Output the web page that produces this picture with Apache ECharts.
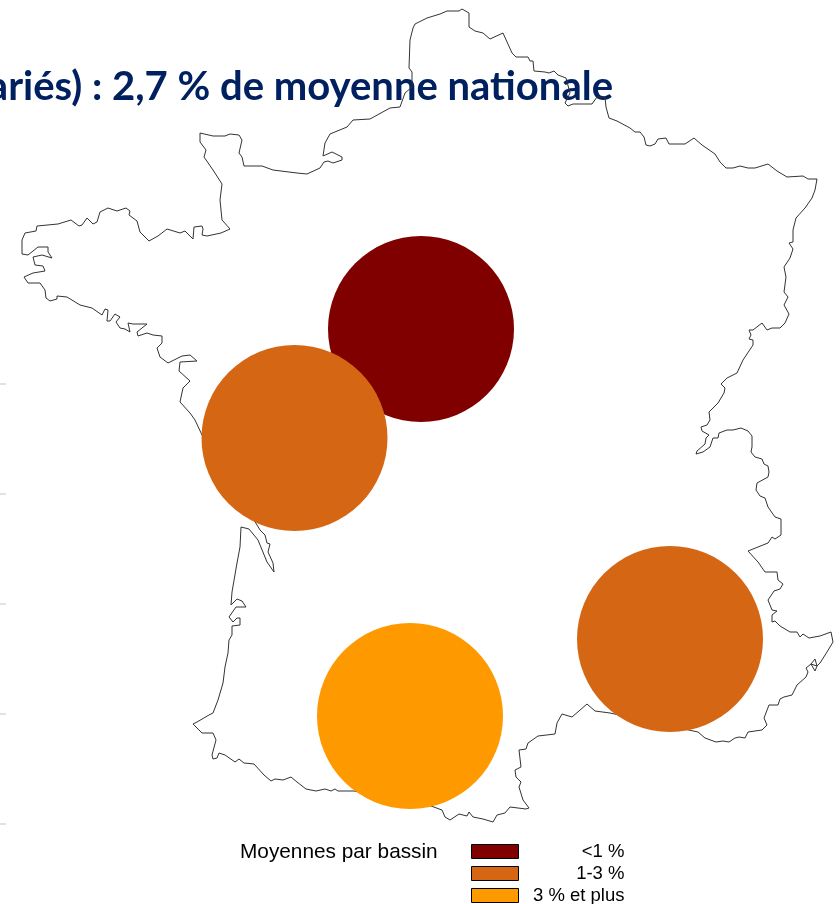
<!DOCTYPE html>
<html>
<head>
<meta charset="utf-8">
<title>Moyennes par bassin</title>
<style>
html,body{margin:0;padding:0;background:#fff;overflow:hidden;}
#main{width:840px;height:904px;}
</style>
<script src="https://cdn.jsdelivr.net/npm/echarts@6/dist/echarts.min.js"></script>
</head>
<body>
<div id="main"></div>
<script>
var titleText = 'ariés) : 2,7 % de moyenne nationale';
var legendTitle = 'Moyennes par bassin';
var classNames = ['<1 %', '1-3 %', '3 % et plus'];
var classColors = ['#800000', '#d56714', '#ff9900'];

// centres des bassins, par classe
var basinsLow = [[421, 329]];
var basinsMid = [[294.5, 438], [670, 639]];
var basinsHigh = [[410, 716]];

// restes de graduations a gauche
var leftTicks = [384, 494, 604, 714, 824];

// contour
var northEast = [[462,9],[469,13],[469,27],[475,31],[483,33],[490,39],[503,33],[512,53],[516,57],[528,57],[530,61],[533,61],[534,71],[545,72],[549,73],[554,71],[558,75],[566,78],[570,93],[565,103],[568,106],[573,104],[592,104],[597,97],[605,97],[606,107],[608,108],[609,118],[617,121],[630,128],[635,132],[640,132],[644,137],[646,145],[650,146],[655,144],[658,139],[666,138],[669,144],[685,144],[694,138],[702,145],[715,154],[720,162],[726,168],[733,168],[740,166],[748,168],[755,168],[768,164],[777,171],[787,177],[803,176],[808,179],[817,179],[815,190],[812,198],[805,208],[796,218],[793,230],[793,242],[789,243],[793,249],[790,258],[784,267],[786,277],[784,292],[788,297],[784,305],[789,314],[785,323],[780,328],[772,328],[767,330],[762,323],[753,330],[749,330],[751,335],[749,339],[753,340],[753,345],[743,360],[737,373],[727,378],[721,384],[725,388],[724,393],[718,403],[709,412],[710,420],[707,425],[701,427],[702,431],[709,435],[706,438],[705,444],[697,451],[696,454],[698,452],[703,452],[710,447],[713,438],[718,438],[719,433],[727,430],[733,430],[741,428],[748,431],[752,436],[752,447],[751,452],[755,457],[762,459],[764,464],[768,466],[769,472],[768,477]];
var alps = [[757,483],[756,490],[760,496],[765,498],[768,507],[775,517],[781,519],[781,535],[775,539],[772,537],[768,543],[758,547],[748,551],[758,562],[765,572],[777,572],[778,580],[783,584],[780,589],[774,591],[768,600],[772,610],[777,611],[772,615],[772,622],[775,621],[780,626],[790,632],[797,632],[800,637],[803,634],[809,638],[820,636],[831,632],[833,642],[827,652],[820,663],[817,666],[815,659],[811,664],[815,671],[817,666],[811,664],[806,668],[808,672],[806,677],[797,685],[792,695],[784,697],[780,699],[778,705],[769,705],[764,718],[767,725],[762,730],[748,732],[745,738],[739,737],[735,738],[729,742],[723,741],[716,742],[705,738],[698,732]];
var southCoast = [[610,713],[595,711],[587,704],[572,717],[562,714],[557,723],[555,734],[538,736],[528,743],[526,749],[519,750],[521,767],[515,770],[516,777],[521,782],[519,787],[523,800],[529,808],[526,809],[510,807],[505,813],[497,815],[493,822],[483,819],[473,817],[469,812],[467,816],[459,814],[450,820],[445,817],[442,810],[431,806]];
var pyrenees = [[354,791],[338,791],[335,789],[331,791],[325,789],[316,791],[306,789],[297,782],[291,777],[283,780],[275,779],[271,781],[264,775],[254,764],[244,763],[239,759],[235,762],[225,755],[219,753],[217,758],[213,759],[212,755],[216,740],[213,733],[202,733],[199,730],[193,724],[197,722],[209,715],[213,713]];
var atlantic = [[218,700],[223,683],[225,667],[228,653],[229,640],[232,635],[232,626],[240,625],[240,618],[237,618],[233,622],[229,617],[236,607],[246,607],[242,601],[237,599],[231,605],[232,592],[237,563],[240,547],[241,527],[249,529],[258,540],[267,562],[274,572],[273,563],[268,552],[270,544],[267,543],[265,535],[260,530],[257,525],[202,435],[195,420],[190,413],[180,402],[183,388],[190,381],[179,371],[180,362],[197,361],[190,355],[182,356],[168,363],[160,357],[157,348],[162,343],[162,336],[153,335],[147,333],[138,336],[137,332],[147,324],[133,324],[128,323],[130,332],[125,329],[120,328],[116,322],[120,317],[115,314],[110,321],[107,321],[108,310],[105,309],[102,315],[92,308],[80,305],[67,297],[57,296],[57,299],[50,301],[46,298]];
var channel = [[45,290],[40,283],[28,283],[24,277],[33,273],[45,271],[43,266],[35,265],[33,257],[42,255],[52,258],[48,252],[48,247],[38,247],[28,255],[22,254],[22,240],[25,233],[36,231],[37,226],[58,224],[71,220],[79,226],[82,225],[87,218],[93,224],[97,222],[100,212],[108,208],[117,211],[126,208],[130,211],[129,215],[137,221],[140,232],[149,241],[158,236],[167,229],[180,233],[185,231],[193,239],[194,227],[202,226],[203,229],[202,230],[202,235],[207,236],[221,233],[222,231],[230,229],[222,220],[220,200],[222,184],[213,170],[204,157],[206,150],[200,142],[200,133],[213,136],[225,136],[230,134],[239,135],[242,140],[239,153],[242,157],[244,166],[262,166],[273,170],[297,173],[307,174],[320,168],[324,162],[328,161],[333,163],[342,160],[342,157],[332,152],[323,156],[325,143],[330,134],[347,127],[353,120],[370,119],[390,108],[400,107],[405,93],[412,87],[412,72],[409,68],[410,40],[413,28],[415,24],[427,18],[440,14],[442,12],[447,11],[459,11],[462,9]];

var outline = northEast.concat(alps, southCoast, pyrenees, atlantic, channel);

function basinSeries(name, color, data) {
	return {
		name: name,
		type: 'scatter',
		data: data,
		symbol: 'circle',
		symbolSize: 186,
		z: 3,
		silent: true,
		itemStyle: {color: color, opacity: 1}
	};
}

var chart = echarts.init(document.getElementById('main'), null, {renderer: 'canvas'});

chart.setOption({
	animation: false,
	backgroundColor: '#fff',
	title: [{
		text: titleText,
		right: 227,
		top: 67,
		z: 0,
		padding: 0,
		textStyle: {color: '#002060', fontFamily: 'Lato', fontWeight: 'bold', fontSize: 40}
	}, {
		text: legendTitle,
		left: 240,
		top: 842,
		padding: 0,
		textStyle: {color: '#000', fontFamily: 'Liberation Sans', fontWeight: 'normal', fontSize: 20.8}
	}],
	legend: {
		orient: 'vertical',
		left: 471,
		top: 842,
		height: 80,
		padding: 0,
		itemWidth: 47,
		itemHeight: 14,
		itemGap: 3,
		icon: 'rect',
		selectedMode: false,
		data: classNames,
		itemStyle: {borderColor: '#000', borderWidth: 1},
		formatter: '{lab|{name}}',
		textStyle: {
			rich: {
				lab: {color: '#000', fontFamily: 'Liberation Sans', fontSize: 18.5, width: 101, lineHeight: 14, align: 'right'}
			}
		}
	},
	grid: {left: 0, right: 0, top: 0, bottom: 0},
	xAxis: {type: 'value', min: 0, max: 840, show: false},
	yAxis: {
		type: 'value',
		min: 0,
		max: 904,
		inverse: true,
		splitLine: {show: false},
		axisLine: {show: false},
		axisLabel: {show: false},
		axisTick: {
			show: true,
			inside: true,
			length: 6,
			customValues: leftTicks,
			lineStyle: {color: '#e2e2e2', width: 2}
		}
	},
	series: [
		{
			name: 'contour',
			type: 'line',
			data: outline,
			symbol: 'none',
			silent: true,
			z: 2,
			lineStyle: {color: '#333', width: 1}
		},
		basinSeries(classNames[0], classColors[0], basinsLow),
		basinSeries(classNames[1], classColors[1], basinsMid),
		basinSeries(classNames[2], classColors[2], basinsHigh)
	]
});
</script>
</body>
</html>
